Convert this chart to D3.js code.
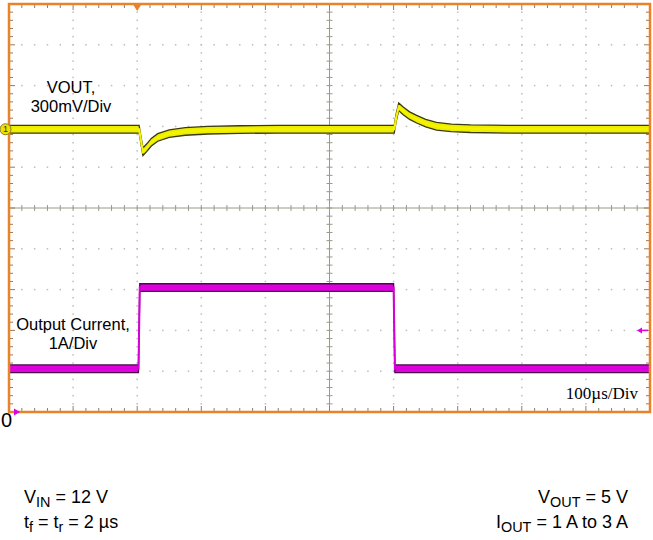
<!DOCTYPE html>
<html><head><meta charset="utf-8">
<script src="https://cdn.jsdelivr.net/npm/d3@7"></script>
<style>body{margin:0;background:#fff}svg{display:block}</style>
</head><body>
<script>
// ---- data ----
const voutTime = [0,203,206,209,215,222,232,250,275,310,360,420,601,604,608,615,625,636,650,667,690,720,780,1000]; // µs
const voutDevMv = [0,0,-85,-165,-135,-95,-60,-32,-16,-7,-2,0,0,85,165,135,100,74,45,22,10,4,0,0]; // mV around 5 V
const ioutTime = [0,202,204,600,602,1000]; // µs
const ioutAmps = [1.06,1.06,3.05,3.05,1.06,1.06]; // A
const labelsV = ["VOUT,","300mV/Div"];
const labelsI = ["Output Current,","1A/Div"];
const timebaseLabel = "100\u00b5s/Div";

const W = 653, H = 540;
const svg = d3.select("body").append("svg").attr("width",W).attr("height",H);

const x = d3.scaleLinear().domain([0,1000]).range([9,650]);
const ydiv = d3.scaleLinear().domain([-5,5]).range([412,4]);
const xdiv = d3.scaleLinear().domain([0,10]).range([9,650]);
const vOffsetDiv = 1.93, mvPerDiv = 300;
const yV = mv => ydiv(vOffsetDiv + mv/mvPerDiv);
const yI = a => ydiv(-5 + a);

const L = x.range()[0], R = x.range()[1], T = ydiv.range()[1], B = ydiv.range()[0];
const cx = xdiv(5), cy = ydiv(0);

// dotted grid
const g = svg.append("g");
for (let i=1;i<10;i++){
  if(i===5) continue;
  const xx = xdiv(i);
  for (let k=1;k<50;k++){
    const yy = ydiv(-5 + k*0.2);
    g.append("rect").attr("x",xx-0.75).attr("y",yy-0.75).attr("width",1.5).attr("height",1.5).attr("fill","#bdbdbd");
  }
}
for (let j=-4;j<5;j++){
  if(j===0) continue;
  const yy = ydiv(j);
  for (let k=1;k<50;k++){
    const xx = xdiv(k*0.2);
    g.append("rect").attr("x",xx-0.75).attr("y",yy-0.75).attr("width",1.5).attr("height",1.5).attr("fill","#bdbdbd");
  }
}
// center cross
g.append("line").attr("x1",L).attr("x2",R).attr("y1",cy).attr("y2",cy).attr("stroke","#9a9a88").attr("stroke-width",1);
g.append("line").attr("x1",cx).attr("x2",cx).attr("y1",T).attr("y2",B).attr("stroke","#9a9a88").attr("stroke-width",1);
for (let k=1;k<50;k++){
  const xx = xdiv(k*0.2), yy = ydiv(-5+k*0.2);
  g.append("line").attr("x1",xx).attr("x2",xx).attr("y1",cy-3).attr("y2",cy+3).attr("stroke","#9a9a88");
  g.append("line").attr("x1",cx-3).attr("x2",cx+3).attr("y1",yy).attr("y2",yy).attr("stroke","#9a9a88");
}
// border ticks
for (let k=1;k<50;k++){
  const xx = xdiv(k*0.2), yy = ydiv(-5+k*0.2);
  const major = k%5===0, len = major?6:4;
  g.append("line").attr("x1",xx).attr("x2",xx).attr("y1",T).attr("y2",T+len).attr("stroke","#8a806e");
  g.append("line").attr("x1",xx).attr("x2",xx).attr("y1",B).attr("y2",B-len).attr("stroke","#8a806e");
  g.append("line").attr("x1",L).attr("x2",L+len).attr("y1",yy).attr("y2",yy).attr("stroke","#a07850");
  g.append("line").attr("x1",R).attr("x2",R-len).attr("y1",yy).attr("y2",yy).attr("stroke","#a07850");
}

// traces
const half = 3.8;
const vData = voutTime.map((t,i)=>({t, v: voutDevMv[i]}));
const iData = ioutTime.map((t,i)=>({t, v: ioutAmps[i]}));
const areaV = d3.area().x(d=>x(d.t)).y0(d=>yV(d.v)+half).y1(d=>yV(d.v)-half);
const lineV = d3.line().x(d=>x(d.t)).y(d=>yV(d.v));
svg.append("path").datum(vData).attr("d",areaV).attr("fill","#eded00").attr("stroke","#3a3a10").attr("stroke-width",1.3);
svg.append("path").datum(vData).attr("d",lineV).attr("fill","none").attr("stroke","#f4f400").attr("stroke-width",2.2);

const areaI = d3.area().x(d=>x(d.t)).y0(d=>yI(d.v)+half).y1(d=>yI(d.v)-half);
const lineI = d3.line().x(d=>x(d.t)).y(d=>yI(d.v));
svg.append("path").datum(iData).attr("d",areaI).attr("fill","#e000e0").attr("stroke","#4a0a4a").attr("stroke-width",1.3);
svg.append("path").datum(iData).attr("d",lineI).attr("fill","none").attr("stroke","#d800d8").attr("stroke-width",2);

// border
svg.append("rect").attr("x",L).attr("y",T).attr("width",R-L).attr("height",B-T)
  .attr("fill","none").attr("stroke","#e8832a").attr("stroke-width",2.5);

// markers
svg.append("path").attr("d",`M${x(200)-4.5},${T} L${x(200)+4.5},${T} L${x(200)},${T+7} Z`).attr("fill","#e8832a");
svg.append("circle").attr("cx",5.5).attr("cy",yV(0)).attr("r",5.5).attr("fill","#f0e000").attr("stroke","#8a7a20").attr("stroke-width",1);
svg.append("text").attr("x",5.5).attr("y",yV(0)+3.2).attr("text-anchor","middle").attr("font-family","Liberation Sans, Arial").attr("font-size",9).attr("fill","#333").text("1");
svg.append("path").attr("d",`M${L+5},${B-3.5} L${L+11},${B} L${L+5},${B+3.5} Z`).attr("fill","#e000e0");
const trigY = yI(2);
svg.append("line").attr("x1",R-10).attr("x2",R-2).attr("y1",trigY).attr("y2",trigY).attr("stroke","#e000e0").attr("stroke-width",1.5);
svg.append("path").attr("d",`M${R-13},${trigY} L${R-8},${trigY-3} L${R-8},${trigY+3} Z`).attr("fill","#e000e0");

// labels
const sans = "Liberation Sans, Arial, sans-serif";
svg.append("text").attr("x",1).attr("y",427).attr("font-family",sans).attr("font-size",20).text("0");
labelsV.forEach((s,i)=>svg.append("text").attr("x",71).attr("y",93+i*19).attr("text-anchor","middle").attr("font-family",sans).attr("font-size",16.5).text(s));
labelsI.forEach((s,i)=>svg.append("text").attr("x",73).attr("y",330+i*19).attr("text-anchor","middle").attr("font-family",sans).attr("font-size",16.5).text(s));
svg.append("text").attr("x",638).attr("y",399).attr("text-anchor","end").attr("font-family","Liberation Serif, Times New Roman, serif").attr("font-size",17).text(timebaseLabel);

// footer
function sub(sel, parts){
  parts.forEach(p=>{
    const ts = sel.append("tspan").text(p[0]);
    if(p[1]) ts.attr("font-size","0.8em").attr("dy", 4);
    else if(p[2]) ts.attr("dy", p[2]);
  });
}
const fs = 18;
const f1 = svg.append("text").attr("x",24).attr("y",503).attr("font-family",sans).attr("font-size",fs);
sub(f1,[["V"],["IN","s"],[" = 12 V",null,-4]]);
const f2 = svg.append("text").attr("x",24).attr("y",528).attr("font-family",sans).attr("font-size",fs);
sub(f2,[["t"],["f","s"],[" = t",null,-4],["r","s"],[" = 2 \u00b5s",null,-4]]);
const f3 = svg.append("text").attr("x",628).attr("y",503).attr("text-anchor","end").attr("font-family",sans).attr("font-size",fs);
sub(f3,[["V"],["OUT","s"],[" = 5 V",null,-4]]);
const f4 = svg.append("text").attr("x",628).attr("y",528).attr("text-anchor","end").attr("font-family",sans).attr("font-size",fs);
sub(f4,[["I"],["OUT","s"],[" = 1 A to 3 A",null,-4]]);
</script>
</body></html>
